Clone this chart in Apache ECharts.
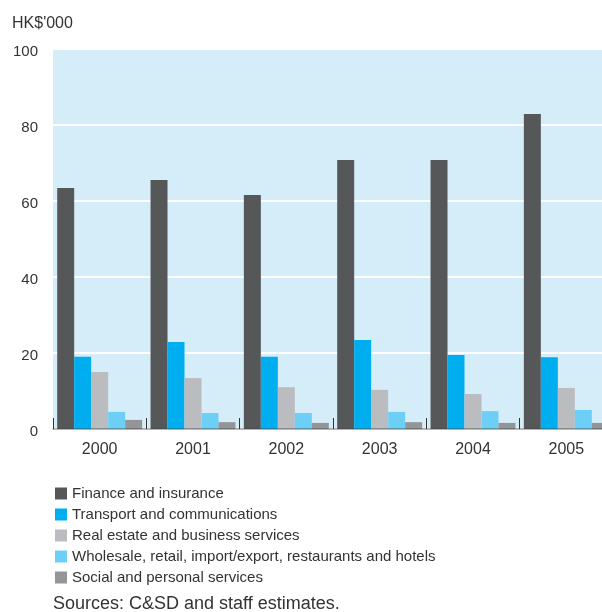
<!DOCTYPE html>
<html><head><meta charset="utf-8">
<script src="https://cdn.jsdelivr.net/npm/echarts@6/dist/echarts.min.js"></script>
<style>html,body{margin:0;padding:0;background:#fff}#c{width:602px;height:612px}</style>
</head><body><div id="c"></div>
<script>
const years = ['2000','2001','2002','2003','2004','2005'];
const finance = [63.4, 65.5, 61.6, 70.8, 70.8, 82.9];
const transport = [19.0, 22.9, 19.0, 23.4, 19.5, 18.9];
const realEstate = [15.0, 13.4, 11.0, 10.3, 9.2, 10.8];
const wholesale = [4.5, 4.2, 4.2, 4.5, 4.7, 5.0];
const social = [2.4, 1.8, 1.6, 1.8, 1.6, 1.6];
const seriesNames = ['Finance and insurance','Transport and communications','Real estate and business services','Wholesale, retail, import/export, restaurants and hotels','Social and personal services'];
const yTicks = [0,20,40,60,80,100];
const colors = ['#555759','#00adef','#bbbcbf','#6dcff6','#939598'];
const dataSets = [finance, transport, realEstate, wholesale, social];
const font = 'Liberation Sans, Arial, sans-serif';
const chart = echarts.init(document.getElementById('c'), null, {renderer:'canvas'});
chart.setOption({
  animation:false,
  textStyle:{fontFamily:font},
  grid:{left:53, top:49, width:560, height:380, show:true, backgroundColor:'#d5ecf9', borderWidth:0, containLabel:false, outerBoundsMode:'none'},
  graphic:[
    {type:'text', left:12, top:16, style:{text:"HK$'000", font:'16px '+font, fill:'#333'}},
    {type:'text', left:53, top:595, style:{text:'Sources: C&SD and staff estimates.', font:'18px '+font, fill:'#333'}}
  ],
  legend:{orient:'vertical', left:50, top:481, itemWidth:12, itemHeight:12, itemGap:6, icon:'rect',
    textStyle:{fontSize:15, color:'#333', fontFamily:font}, data:seriesNames},
  xAxis:{type:'category', data:years, z:3,
    axisLine:{lineStyle:{color:'rgba(60,60,60,0.5)', width:1.5}},
    axisTick:{show:true, inside:true, length:11, lineStyle:{color:'#333', width:1}},
    axisLabel:{fontSize:16, color:'#333', margin:13, fontFamily:font},
    splitLine:{show:false}},
  yAxis:{type:'value', min:yTicks[0], max:yTicks[yTicks.length-1], interval:20,
    axisLine:{show:false}, axisTick:{show:false},
    axisLabel:{fontSize:15, color:'#333', margin:15, fontFamily:font, verticalAlign:'top', lineHeight:6},
    splitLine:{lineStyle:{color:'#ffffff', width:2}}},
  series: dataSets.map((d,i)=>({name:seriesNames[i], type:'bar', data:d, barGap:'0%', barCategoryGap:'9%',
    itemStyle:{color:colors[i]}}))
});
</script></body></html>
